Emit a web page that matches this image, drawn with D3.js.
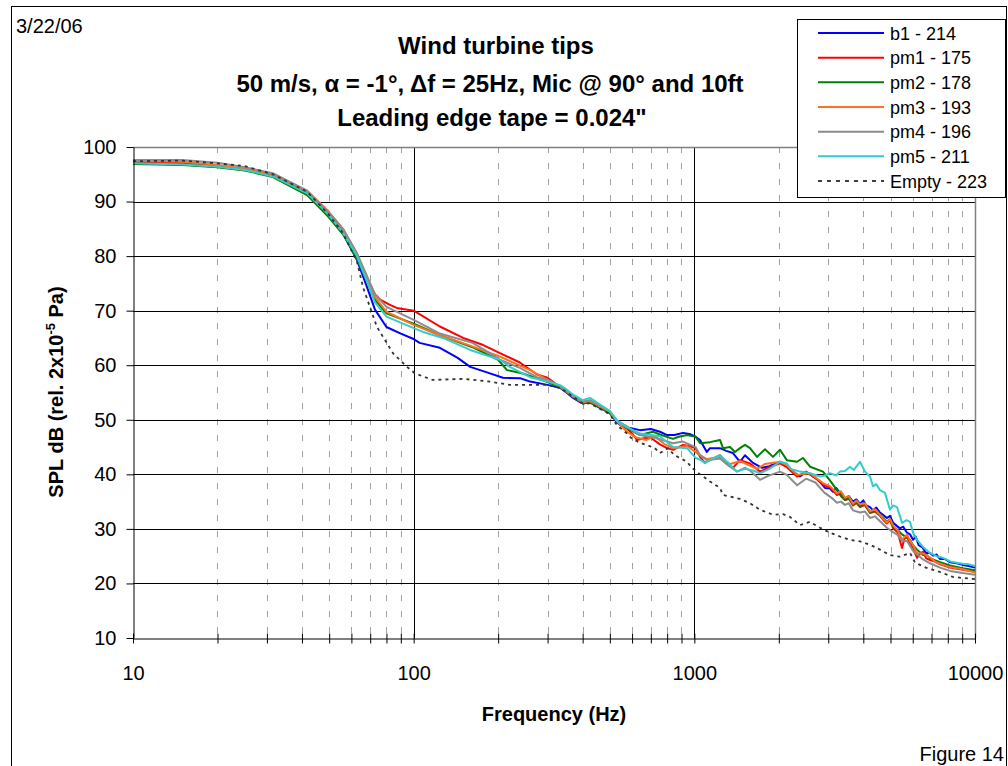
<!DOCTYPE html>
<html><head><meta charset="utf-8">
<script src="https://cdn.jsdelivr.net/npm/d3@7"></script>
<style>
html,body{margin:0;padding:0;background:#fff;}
svg{display:block;font-family:"Liberation Sans",Arial,sans-serif;}
</style></head>
<body><svg id="c" width="1008" height="766"></svg>
<script>
// ---------- data (frequency Hz, SPL dB) ----------
const seriesNames = ["b1 - 214","pm1 - 175","pm2 - 178","pm3 - 193","pm4 - 196","pm5 - 211","Empty - 223"];
const yTicks = [10,20,30,40,50,60,70,80,90,100];
const xTicks = [10,100,1000,10000];

const b1 = [[10,97.0],[15,96.8],[20,96.4],[25,95.8],[31.5,94.7],[41.7,91.4],[49.5,87.6],[56,84.2],[62.8,79.3],[68,74.5],[72.8,70.2],[80,67.0],[90,65.8],[100,64.8],[105,64.1],[124,63.2],[143,61.4],[159,59.7],[187,58.5],[208,57.7],[240,57.6],[260,57.0],[300,56.4],[334,55.8],[350,55.0],[370,54.0],[390,53.3],[400,53.0],[425,53.2],[445,52.6],[461,52.2],[500,51.2],[530,49.5],[560,48.6],[590,48.5],[640,48.1],[700,48.3],[754,47.8],[800,47.2],[850,47.2],[911,47.6],[960,47.4],[1010,46.9],[1048,46.3],[1108,44.1],[1137,44.8],[1234,44.8],[1300,44.3],[1373,43.9],[1454,42.3],[1515,43.5],[1618,42.1],[1742,41.2],[1850,41.5],[2020,42.3],[2135,41.7],[2250,40.5],[2379,39.6],[2500,40.4],[2584,40.0],[2760,39.0],[2921,37.5],[3044,37.4],[3119,36.8],[3200,37.5],[3304,36.6],[3442,35.5],[3550,36.0],[3675,35.0],[3780,35.4],[3893,34.6],[4000,35.2],[4100,34.3],[4226,34.0],[4331,33.4],[4450,33.9],[4586,33.0],[4700,32.6],[4856,32.0],[4979,32.4],[5110,31.1],[5250,30.6],[5400,30.1],[5550,30.4],[5724,29.3],[5866,29.0],[6014,28.0],[6150,28.6],[6300,27.0],[6500,26.6],[6683,25.6],[6913,25.6],[7100,25.1],[7300,25.3],[7500,24.5],[7800,24.5],[8146,23.9],[8600,23.7],[9040,23.4],[9500,23.2],[10000,22.9]];

const pm1 = [[10,97.3],[15,97.1],[20,96.6],[25,95.9],[31.5,94.8],[41.7,91.6],[49.5,87.9],[56,84.6],[62.8,80.0],[68,76.0],[72.8,73.0],[76,72.0],[82,71.1],[87,70.5],[100,70.0],[124,67.1],[150,65.0],[177,63.7],[203,62.2],[239,60.5],[275,58.3],[300,57.7],[324,56.4],[350,55.3],[370,54.5],[400,53.3],[425,53.5],[461,52.5],[500,51.2],[530,49.8],[575,48.4],[600,47.5],[625,46.3],[660,46.6],[700,46.7],[754,45.5],[800,44.8],[840,44.5],[911,45.4],[960,45.2],[1010,44.8],[1048,43.2],[1090,42.1],[1137,42.6],[1234,43.5],[1307,42.1],[1373,41.2],[1454,42.6],[1579,42.0],[1714,40.5],[1850,41.3],[2020,42.0],[2135,41.3],[2323,39.6],[2500,40.5],[2700,39.3],[2900,38.0],[3050,37.6],[3222,36.2],[3330,36.6],[3442,35.3],[3550,35.6],[3675,34.3],[3780,34.8],[3893,34.0],[4050,34.4],[4226,32.9],[4400,33.2],[4586,32.4],[4720,31.6],[4856,31.0],[4979,31.6],[5110,30.1],[5300,29.4],[5496,26.5],[5600,28.2],[5724,28.5],[5866,27.4],[6014,26.5],[6216,24.7],[6400,25.6],[6528,25.8],[6700,24.6],[6913,24.3],[7200,24.0],[7504,23.5],[8146,22.9],[9040,22.5],[10000,22.2]];

const pm2 = [[10,96.9],[15,96.7],[20,96.3],[25,95.7],[31.5,94.5],[41.7,91.2],[49.5,87.3],[56,84.0],[62.8,79.5],[68,75.5],[72.8,72.0],[80,69.5],[100,67.6],[124,65.5],[162,63.3],[200,61.0],[215,59.1],[245,58.5],[300,56.9],[334,55.9],[350,55.1],[370,54.2],[400,53.0],[425,53.2],[461,52.2],[500,51.3],[530,49.7],[575,48.5],[640,47.2],[712,47.8],[754,47.3],[839,46.5],[880,46.9],[942,47.2],[1010,46.9],[1048,45.7],[1137,45.9],[1234,46.3],[1265,44.8],[1340,45.0],[1396,44.1],[1454,44.8],[1515,45.4],[1579,44.8],[1672,43.2],[1786,44.6],[1906,43.2],[2020,44.5],[2135,42.6],[2323,42.3],[2437,43.0],[2584,41.4],[2874,40.5],[3050,38.8],[3222,37.1],[3330,36.0],[3442,35.3],[3550,35.5],[3675,34.6],[3780,34.8],[3893,34.2],[4050,34.5],[4226,33.0],[4400,33.4],[4586,32.5],[4720,32.0],[4856,31.3],[4979,31.8],[5110,30.4],[5300,29.8],[5496,29.0],[5724,28.4],[5866,28.0],[6014,27.0],[6216,26.2],[6528,25.2],[6700,25.3],[6913,24.6],[7504,23.9],[8146,23.3],[9040,22.8],[10000,22.4]];

const pm3 = [[10,97.5],[15,97.3],[20,96.7],[25,96.0],[31.5,95.0],[41.7,92.0],[49.5,88.3],[56,85.0],[62.8,80.5],[68,76.0],[72.8,72.5],[80,69.8],[100,67.4],[124,65.5],[159,63.6],[200,61.7],[260,59.1],[300,57.3],[334,56.0],[350,55.2],[370,54.3],[400,53.2],[425,53.4],[461,52.4],[500,51.5],[530,49.7],[575,47.8],[625,46.7],[675,46.3],[723,47.0],[780,45.6],[839,44.8],[942,45.2],[1010,44.1],[1048,43.5],[1108,42.8],[1234,43.2],[1340,41.9],[1454,42.4],[1579,41.6],[1672,41.0],[1786,41.9],[2020,42.3],[2135,41.7],[2323,39.9],[2584,40.2],[2874,38.4],[3050,37.8],[3222,36.5],[3330,36.9],[3442,35.7],[3550,36.0],[3675,34.6],[3780,35.2],[3893,34.5],[4050,34.7],[4226,33.2],[4400,33.6],[4586,32.6],[4720,31.8],[4856,31.2],[4979,31.8],[5110,30.6],[5300,29.8],[5496,28.0],[5724,29.0],[5866,27.8],[6014,27.0],[6216,25.6],[6528,25.5],[6913,24.8],[7200,24.0],[7504,23.6],[8146,23.0],[9040,22.6],[10000,22.0]];

const pm4 = [[10,97.6],[15,97.6],[20,97.1],[25,96.3],[31.5,95.2],[41.7,92.0],[49.5,88.2],[56,85.0],[62.8,80.5],[68,76.5],[72.8,73.0],[80,70.7],[100,68.3],[124,65.8],[162,64.1],[187,62.2],[203,61.0],[239,59.5],[275,57.8],[300,57.3],[334,56.1],[350,55.3],[370,54.4],[400,53.3],[425,53.6],[461,52.6],[500,51.6],[530,49.9],[575,48.8],[640,47.2],[723,46.7],[839,45.7],[911,46.0],[1010,45.0],[1048,43.5],[1108,42.6],[1234,42.9],[1307,41.8],[1420,40.5],[1515,41.2],[1579,40.7],[1714,39.0],[1850,39.8],[2020,40.5],[2135,39.9],[2323,38.0],[2500,39.2],[2700,38.5],[2900,36.7],[3100,35.6],[3222,34.8],[3330,35.0],[3442,34.4],[3550,34.7],[3675,33.4],[3893,33.0],[4050,33.2],[4226,32.0],[4400,32.3],[4586,31.4],[4856,30.2],[5110,29.4],[5300,28.9],[5496,27.8],[5724,27.8],[6014,26.0],[6528,24.4],[6913,23.7],[7504,22.9],[8146,22.3],[9040,21.9],[10000,21.6]];

const pm5 = [[10,97.0],[15,96.8],[20,96.4],[25,95.8],[31.5,94.6],[41.7,91.5],[49.5,87.7],[56,84.3],[62.8,80.0],[68,75.5],[72.8,71.5],[80,68.9],[100,66.8],[108,66.1],[127,65.0],[159,62.8],[203,61.0],[220,59.7],[260,57.8],[300,57.0],[334,56.3],[350,55.6],[370,54.6],[400,53.6],[425,54.0],[461,52.8],[500,51.6],[530,49.8],[575,48.6],[640,47.5],[754,47.0],[839,45.0],[942,44.8],[1010,43.0],[1048,42.7],[1090,42.1],[1137,42.6],[1234,43.5],[1307,42.3],[1420,40.5],[1515,41.0],[1618,40.7],[1714,40.2],[1850,41.0],[2020,42.3],[2135,42.0],[2200,41.0],[2379,40.5],[2584,40.2],[2804,39.6],[2921,39.8],[3044,40.2],[3200,39.8],[3304,40.5],[3442,40.6],[3586,41.4],[3700,40.8],[3893,42.3],[4055,40.5],[4226,39.6],[4331,37.8],[4450,38.2],[4586,37.1],[4778,36.6],[4979,33.5],[5100,34.3],[5275,34.0],[5496,31.1],[5700,31.6],[5866,31.3],[6014,29.3],[6216,28.0],[6528,26.7],[6913,25.6],[7300,25.0],[7691,24.7],[8200,24.0],[8616,23.8],[9040,23.6],[9500,23.5],[10000,23.2]];

const empty = [[10,97.4],[15,97.5],[20,97.0],[25,96.5],[31.5,95.0],[41.7,91.8],[49.5,87.8],[56,84.2],[62.8,79.0],[66,74.3],[74,67.0],[84.4,62.2],[94.7,59.7],[101,58.5],[110,57.8],[117,57.3],[150,57.5],[187,57.0],[220,56.4],[300,56.4],[334,55.8],[370,54.2],[400,53.0],[425,53.0],[461,52.0],[500,51.0],[530,49.0],[575,47.5],[600,46.5],[640,45.8],[675,45.4],[723,44.8],[754,43.9],[806,44.8],[850,43.5],[942,42.3],[980,41.2],[1048,40.0],[1137,38.7],[1234,37.5],[1265,36.2],[1373,35.8],[1454,35.5],[1579,34.7],[1714,33.5],[1906,32.6],[2070,32.7],[2192,32.2],[2379,30.7],[2584,31.3],[2804,30.2],[3044,29.3],[3304,28.6],[3586,28.0],[3893,27.7],[4226,27.1],[4586,26.2],[4979,25.2],[5406,24.9],[5866,25.6],[6115,23.8],[6683,22.9],[7504,22.1],[8338,21.2],[9040,21.0],[10000,20.8]];

const seriesData = [b1, pm1, pm2, pm3, pm4, pm5, empty];
const seriesColors = ["#0000ff","#ff0000","#008000","#ff7020","#8c8c8c","#33cccc","#333333"];

// ---------- chart ----------
const svg = d3.select("#c");
const L = 133, R = 975, T = 147, B = 638;
const x = d3.scaleLog().domain([10, 10000]).range([L, R]);
const y = d3.scaleLinear().domain([10, 100]).range([B, T]);
const font = '"Liberation Sans",Arial,sans-serif';

// minor vertical gridlines
const minor = [];
[10, 100, 1000].forEach(d => { for (let k = 2; k <= 9; k++) minor.push(d * k); });
svg.append("g").selectAll("line").data(minor).join("line")
  .attr("x1", d => Math.round(x(d)) + 0.5).attr("x2", d => Math.round(x(d)) + 0.5)
  .attr("y1", T).attr("y2", B)
  .attr("stroke", "#a0a0a0").attr("stroke-width", 1).attr("stroke-dasharray", "6,10");

// major vertical gridlines
svg.append("g").selectAll("line").data([100, 1000]).join("line")
  .attr("x1", d => Math.round(x(d)) + 0.5).attr("x2", d => Math.round(x(d)) + 0.5)
  .attr("y1", T).attr("y2", B).attr("stroke", "#000").attr("stroke-width", 1);

// horizontal gridlines
svg.append("g").selectAll("line").data(yTicks.filter(v => v > 10 && v < 100)).join("line")
  .attr("x1", L).attr("x2", R)
  .attr("y1", d => Math.round(y(d)) + 0.5).attr("y2", d => Math.round(y(d)) + 0.5)
  .attr("stroke", "#000").attr("stroke-width", 1);

// plot border top/right (gray)
svg.append("path").attr("d", `M${L},${Math.round(y(100))+0.5}H${Math.round(R)+0.5}V${B}`)
  .attr("fill", "none").attr("stroke", "#808080").attr("stroke-width", 1.5);

// series
const line = d3.line().x(d => x(d[0])).y(d => y(d[1]));
seriesData.forEach((s, i) => {
  const p = svg.append("path").datum(s).attr("d", line)
    .attr("fill", "none").attr("stroke", seriesColors[i])
    .attr("stroke-width", i === 6 ? 1.8 : 2).attr("stroke-linejoin", "round");
  if (i === 6) p.attr("stroke-dasharray", "3,4");
});

// y axis
const ya = svg.append("g").attr("transform", `translate(${L + 0.5},0)`)
  .call(d3.axisLeft(y).tickValues(yTicks).tickSize(7).tickPadding(10).tickSizeOuter(0));
ya.select(".domain").attr("stroke", "#000");
ya.selectAll(".tick line").attr("stroke", "#000");
ya.selectAll(".tick text").attr("font-size", 20).attr("font-family", font).attr("fill", "#000");

// x axis
const allX = [10, ...minor, 100, 1000, 10000];
const xa = svg.append("g").attr("transform", `translate(0,${B + 0.5})`)
  .call(d3.axisBottom(x).tickValues(allX).tickSize(5).tickSizeOuter(0)
    .tickFormat(d => xTicks.includes(d) ? String(d) : ""));
xa.select(".domain").attr("stroke", "#000");
xa.selectAll(".tick line").attr("y1", -5).attr("y2", 5).attr("stroke", "#000");
xa.selectAll(".tick text").attr("font-size", 20).attr("font-family", font).attr("fill", "#000")
  .attr("y", 27).attr("dy", "0.71em");

// titles
const title = svg.append("text").attr("font-family", font).attr("font-weight", "bold")
  .attr("font-size", 24).attr("text-anchor", "middle");
title.append("tspan").attr("x", 496).attr("y", 54).text("Wind turbine tips");
title.append("tspan").attr("x", 490).attr("y", 92).text("50 m/s, \u03b1 = -1\u00b0, \u0394f = 25Hz, Mic @ 90\u00b0 and 10ft");
title.append("tspan").attr("x", 492).attr("y", 126).text("Leading edge tape = 0.024\"");

svg.append("text").attr("x", 16).attr("y", 33).attr("font-family", font).attr("font-size", 20).text("3/22/06");

// axis titles
svg.append("text").attr("x", (L + R) / 2).attr("y", 721).attr("text-anchor", "middle")
  .attr("font-family", font).attr("font-weight", "bold").attr("font-size", 20).text("Frequency (Hz)");
const yl = svg.append("text").attr("transform", "translate(63,392) rotate(-90)").attr("text-anchor", "middle")
  .attr("font-family", font).attr("font-weight", "bold").attr("font-size", 20);
yl.append("tspan").text("SPL dB (rel. 2x10");
yl.append("tspan").attr("dy", -8).attr("font-size", 13).text("-5");
yl.append("tspan").attr("dy", 8).text(" Pa)");

svg.append("text").attr("x", 1004).attr("y", 761).attr("text-anchor", "end")
  .attr("font-family", font).attr("font-size", 20).text("Figure 14");

// frame border
svg.append("rect").attr("x", 11.5).attr("y", 6.5).attr("width", 995).attr("height", 770)
  .attr("fill", "none").attr("stroke", "#000").attr("stroke-width", 1);

// legend
const lg = svg.append("g");
lg.append("rect").attr("x", 797.5).attr("y", 19.5).attr("width", 208).attr("height", 178)
  .attr("fill", "#fff").attr("stroke", "#000").attr("stroke-width", 1);
const rowY = d3.scaleLinear().domain([0, 6]).range([33, 181]);
seriesNames.forEach((n, i) => {
  const ly = rowY(i);
  const l = lg.append("line").attr("x1", 818).attr("x2", 884).attr("y1", ly).attr("y2", ly)
    .attr("stroke", seriesColors[i]).attr("stroke-width", 2);
  if (i === 6) l.attr("stroke-dasharray", "4,5").attr("stroke-width", 1.6).attr("stroke", "#000");
  lg.append("text").attr("x", 890).attr("y", ly + 6.5).attr("font-family", font).attr("font-size", 18).text(n);
});
</script></body></html>
